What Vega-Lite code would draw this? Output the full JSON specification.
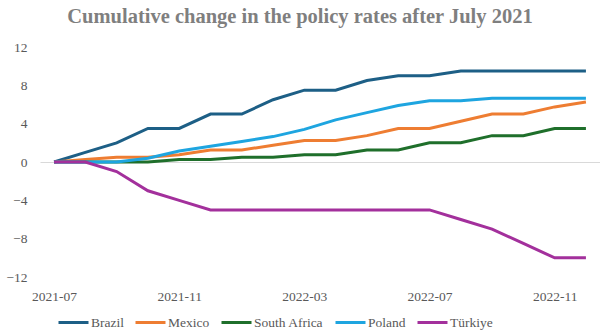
{
  "$schema": "https://vega.github.io/schema/vega-lite/v6.json",
  "width": 560,
  "height": 230,
  "autosize": {"type": "none"},
  "padding": {"left": 40, "top": 47, "right": 0, "bottom": 56},
  "background": "white",
  "title": {
    "text": "Cumulative change in the policy rates after July 2021",
    "font": "Liberation Serif, Times New Roman, DejaVu Serif, serif",
    "fontSize": 20.5,
    "fontWeight": "bold",
    "color": "#7f7f7f",
    "anchor": "middle",
    "dx": -20,
    "offset": 13
  },
  "config": {
    "view": {"stroke": null}
  },
  "data": {
    "values": [
      {"month": "2021-07", "country": "Brazil", "value": 0},
      {"month": "2021-08", "country": "Brazil", "value": 1},
      {"month": "2021-09", "country": "Brazil", "value": 2},
      {"month": "2021-10", "country": "Brazil", "value": 3.5},
      {"month": "2021-11", "country": "Brazil", "value": 3.5},
      {"month": "2021-12", "country": "Brazil", "value": 5},
      {"month": "2022-01", "country": "Brazil", "value": 5},
      {"month": "2022-02", "country": "Brazil", "value": 6.5},
      {"month": "2022-03", "country": "Brazil", "value": 7.5},
      {"month": "2022-04", "country": "Brazil", "value": 7.5},
      {"month": "2022-05", "country": "Brazil", "value": 8.5},
      {"month": "2022-06", "country": "Brazil", "value": 9},
      {"month": "2022-07", "country": "Brazil", "value": 9},
      {"month": "2022-08", "country": "Brazil", "value": 9.5},
      {"month": "2022-09", "country": "Brazil", "value": 9.5},
      {"month": "2022-10", "country": "Brazil", "value": 9.5},
      {"month": "2022-11", "country": "Brazil", "value": 9.5},
      {"month": "2022-12", "country": "Brazil", "value": 9.5},
      {"month": "2021-07", "country": "Mexico", "value": 0},
      {"month": "2021-08", "country": "Mexico", "value": 0.25},
      {"month": "2021-09", "country": "Mexico", "value": 0.5},
      {"month": "2021-10", "country": "Mexico", "value": 0.5},
      {"month": "2021-11", "country": "Mexico", "value": 0.75},
      {"month": "2021-12", "country": "Mexico", "value": 1.25},
      {"month": "2022-01", "country": "Mexico", "value": 1.25},
      {"month": "2022-02", "country": "Mexico", "value": 1.75},
      {"month": "2022-03", "country": "Mexico", "value": 2.25},
      {"month": "2022-04", "country": "Mexico", "value": 2.25},
      {"month": "2022-05", "country": "Mexico", "value": 2.75},
      {"month": "2022-06", "country": "Mexico", "value": 3.5},
      {"month": "2022-07", "country": "Mexico", "value": 3.5},
      {"month": "2022-08", "country": "Mexico", "value": 4.25},
      {"month": "2022-09", "country": "Mexico", "value": 5},
      {"month": "2022-10", "country": "Mexico", "value": 5},
      {"month": "2022-11", "country": "Mexico", "value": 5.75},
      {"month": "2022-12", "country": "Mexico", "value": 6.25},
      {"month": "2021-07", "country": "South Africa", "value": 0},
      {"month": "2021-08", "country": "South Africa", "value": 0},
      {"month": "2021-09", "country": "South Africa", "value": 0},
      {"month": "2021-10", "country": "South Africa", "value": 0},
      {"month": "2021-11", "country": "South Africa", "value": 0.25},
      {"month": "2021-12", "country": "South Africa", "value": 0.25},
      {"month": "2022-01", "country": "South Africa", "value": 0.5},
      {"month": "2022-02", "country": "South Africa", "value": 0.5},
      {"month": "2022-03", "country": "South Africa", "value": 0.75},
      {"month": "2022-04", "country": "South Africa", "value": 0.75},
      {"month": "2022-05", "country": "South Africa", "value": 1.25},
      {"month": "2022-06", "country": "South Africa", "value": 1.25},
      {"month": "2022-07", "country": "South Africa", "value": 2},
      {"month": "2022-08", "country": "South Africa", "value": 2},
      {"month": "2022-09", "country": "South Africa", "value": 2.75},
      {"month": "2022-10", "country": "South Africa", "value": 2.75},
      {"month": "2022-11", "country": "South Africa", "value": 3.5},
      {"month": "2022-12", "country": "South Africa", "value": 3.5},
      {"month": "2021-07", "country": "Poland", "value": 0},
      {"month": "2021-08", "country": "Poland", "value": 0},
      {"month": "2021-09", "country": "Poland", "value": 0},
      {"month": "2021-10", "country": "Poland", "value": 0.4},
      {"month": "2021-11", "country": "Poland", "value": 1.15},
      {"month": "2021-12", "country": "Poland", "value": 1.65},
      {"month": "2022-01", "country": "Poland", "value": 2.15},
      {"month": "2022-02", "country": "Poland", "value": 2.65},
      {"month": "2022-03", "country": "Poland", "value": 3.4},
      {"month": "2022-04", "country": "Poland", "value": 4.4},
      {"month": "2022-05", "country": "Poland", "value": 5.15},
      {"month": "2022-06", "country": "Poland", "value": 5.9},
      {"month": "2022-07", "country": "Poland", "value": 6.4},
      {"month": "2022-08", "country": "Poland", "value": 6.4},
      {"month": "2022-09", "country": "Poland", "value": 6.65},
      {"month": "2022-10", "country": "Poland", "value": 6.65},
      {"month": "2022-11", "country": "Poland", "value": 6.65},
      {"month": "2022-12", "country": "Poland", "value": 6.65},
      {"month": "2021-07", "country": "Türkiye", "value": 0},
      {"month": "2021-08", "country": "Türkiye", "value": 0},
      {"month": "2021-09", "country": "Türkiye", "value": -1},
      {"month": "2021-10", "country": "Türkiye", "value": -3},
      {"month": "2021-11", "country": "Türkiye", "value": -4},
      {"month": "2021-12", "country": "Türkiye", "value": -5},
      {"month": "2022-01", "country": "Türkiye", "value": -5},
      {"month": "2022-02", "country": "Türkiye", "value": -5},
      {"month": "2022-03", "country": "Türkiye", "value": -5},
      {"month": "2022-04", "country": "Türkiye", "value": -5},
      {"month": "2022-05", "country": "Türkiye", "value": -5},
      {"month": "2022-06", "country": "Türkiye", "value": -5},
      {"month": "2022-07", "country": "Türkiye", "value": -5},
      {"month": "2022-08", "country": "Türkiye", "value": -6},
      {"month": "2022-09", "country": "Türkiye", "value": -7},
      {"month": "2022-10", "country": "Türkiye", "value": -8.5},
      {"month": "2022-11", "country": "Türkiye", "value": -10},
      {"month": "2022-12", "country": "Türkiye", "value": -10}
    ]
  },
  "mark": {"type": "line", "strokeWidth": 3},
  "encoding": {
    "x": {
      "field": "month", "type": "ordinal",
      "scale": {"type": "point", "padding": 0.45},
      "axis": {
        "title": null, "domain": false, "ticks": false, "grid": false, "labelAngle": 0,
        "labelPadding": 12,
        "labelFont": "Liberation Serif, Times New Roman, DejaVu Serif, serif",
        "labelFontSize": 13.5, "labelColor": "#595959",
        "values": ["2021-07", "2021-11", "2022-03", "2022-07", "2022-11"]
      }
    },
    "y": {
      "field": "value", "type": "quantitative",
      "scale": {"domain": [-12, 12], "nice": false},
      "axis": {
        "title": null, "domain": false, "ticks": false,
        "grid": true, "gridColor": "#d9d9d9", "gridWidth": 1,
        "gridOpacity": {"condition": {"test": "datum.value === 0", "value": 1}, "value": 0},
        "values": [-12, -8, -4, 0, 4, 8, 12], "labelPadding": 13,
        "labelOverlap": false, "labelFlush": false,
        "labelFont": "Liberation Serif, Times New Roman, DejaVu Serif, serif",
        "labelFontSize": 13.5, "labelColor": "#595959"
      }
    },
    "color": {
      "field": "country", "type": "nominal",
      "scale": {
        "domain": ["Brazil", "Mexico", "South Africa", "Poland", "Türkiye"],
        "range": ["#1d5f86", "#ee7d32", "#1f6f2b", "#1ea5e0", "#a3309c"]
      },
      "legend": {
        "title": null, "orient": "none", "direction": "horizontal",
        "legendX": 17, "legendY": 259,
        "symbolType": "stroke", "symbolSize": 900, "symbolStrokeWidth": 3,
        "columnPadding": 5, "labelOffset": 1,
        "labelFont": "Liberation Serif, Times New Roman, DejaVu Serif, serif",
        "labelFontSize": 13.5, "labelColor": "#595959"
      }
    }
  }
}
